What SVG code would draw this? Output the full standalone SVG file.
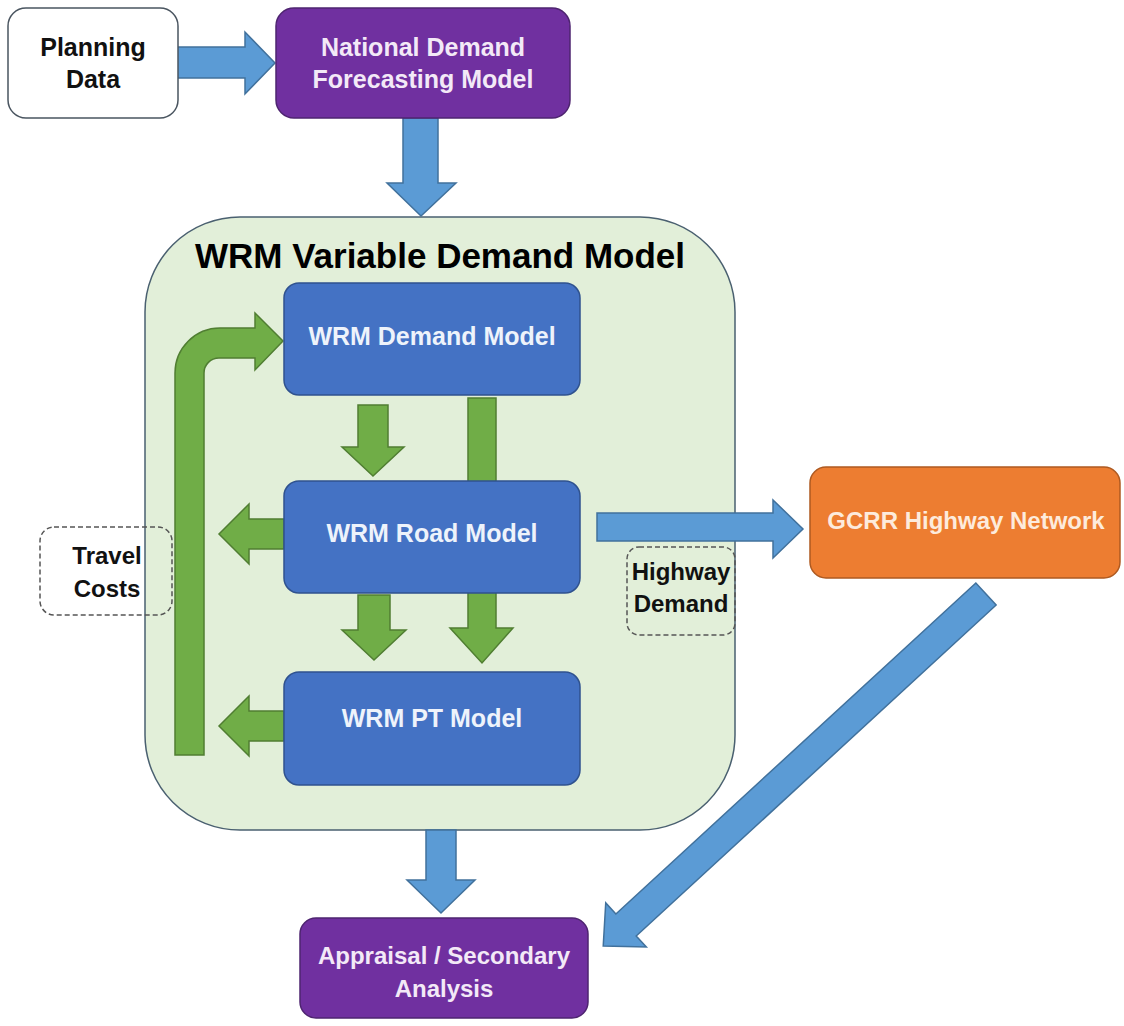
<svg xmlns="http://www.w3.org/2000/svg" width="1124" height="1026" viewBox="0 0 1124 1026">
<style>
text{font-family:"Liberation Sans",Arial,sans-serif;font-weight:bold;text-anchor:middle}
.lt{fill:#f3e9f7;font-size:25px}
.dk{fill:#111;font-size:25px}
.wt{fill:#eef3fb;font-size:25px}
.purple{fill:#7030a0;stroke:#4e2470;stroke-width:1.5}
.blue{fill:#4472c4;stroke:#2f528f;stroke-width:1.5}
.barrow{fill:#5b9bd5;stroke:#41719c;stroke-width:1.5}
.garrow{fill:#70ad47;stroke:#507e32;stroke-width:1.5}
.dash{fill:none;stroke:#555;stroke-width:1.5;stroke-dasharray:5,3}
</style>
<rect width="1124" height="1026" fill="#fff"/>
<g id="container">
<rect x="145" y="217" width="590" height="613" rx="95" fill="#e2efd9" stroke="#4a6070" stroke-width="1.5"/>
<text x="440" y="268" style="font-size:35px;fill:#000">WRM Variable Demand Model</text>
</g>
<g id="connectors">
<path class="barrow" d="M177,47 L245,47 L245,32 L275,63 L245,94 L245,78 L177,78 Z"/>
<path class="barrow" d="M403,118 L438,118 L438,183 L456,183 L421,216 L387,183 L403,183 Z"/>
<path class="barrow" d="M597,513 L773,513 L773,500 L803,529 L773,558 L773,541 L597,541 Z"/>
<path class="barrow" d="M426,830 L456,830 L456,880 L475,880 L441,913 L407,880 L426,880 Z"/>
<path class="barrow" transform="translate(986,594) rotate(137.4)" d="M0,-15 L489,-15 L489,-30 L520,0 L489,30 L489,15 L0,15 Z"/>
<path class="garrow" d="M175,755 L175,373 A45,45 0 0 1 220,328 L255,328 L255,313 L283,341 L255,370 L255,358 L219,358 A15,15 0 0 0 204,373 L204,755 Z"/>
<path class="garrow" d="M358,405 L388,405 L388,447 L404,447 L373,476 L342,447 L358,447 Z"/>
<path class="garrow" d="M468,398 L496,398 L496,628 L513,628 L482,663 L450,628 L468,628 Z"/>
<path class="garrow" d="M358,595 L390,595 L390,630 L406,630 L374,660 L342,630 L358,630 Z"/>
<path class="garrow" d="M284,519 L249,519 L249,504 L219,534 L249,564 L249,549 L284,549 Z"/>
<path class="garrow" d="M284,711 L249,711 L249,696 L219,726 L249,756 L249,741 L284,741 Z"/>
</g>
<g id="planning-data">
<rect x="8" y="8" width="170" height="110" rx="18" fill="#fff" stroke="#4a5560" stroke-width="1.5"/>
<text class="dk" x="93" y="56">Planning</text>
<text class="dk" x="93" y="88">Data</text>
</g>
<g id="national-demand">
<rect class="purple" x="276" y="8" width="294" height="110" rx="18"/>
<text class="lt" x="423" y="56">National Demand</text>
<text class="lt" x="423" y="88">Forecasting Model</text>
</g>
<g id="wrm-demand">
<rect class="blue" x="284" y="283" width="296" height="112" rx="15"/>
<text class="wt" x="432" y="345">WRM Demand Model</text>
</g>
<g id="wrm-road">
<rect class="blue" x="284" y="481" width="296" height="112" rx="15"/>
<text class="wt" x="432" y="542">WRM Road Model</text>
</g>
<g id="wrm-pt">
<rect class="blue" x="284" y="672" width="296" height="113" rx="15"/>
<text class="wt" x="432" y="727">WRM PT Model</text>
</g>
<g id="travel-costs">
<rect class="dash" x="40" y="527" width="132" height="88" rx="14"/>
<text class="dk" x="107" y="564" style="font-size:24px">Travel</text>
<text class="dk" x="107" y="597" style="font-size:24px">Costs</text>
</g>
<g id="highway-demand">
<rect class="dash" x="627" y="547" width="108" height="88" rx="12"/>
<text class="dk" x="681" y="580" style="font-size:24px">Highway</text>
<text class="dk" x="681" y="612" style="font-size:24px">Demand</text>
</g>
<g id="gcrr">
<rect x="810" y="467" width="310" height="111" rx="16" fill="#ed7d31" stroke="#ae5a21" stroke-width="1.5"/>
<text x="966" y="529" style="fill:#fdebdc;font-size:24px">GCRR Highway Network</text>
</g>
<g id="appraisal">
<rect class="purple" x="300" y="918" width="288" height="100" rx="16"/>
<text class="lt" x="444" y="964" style="font-size:24px">Appraisal / Secondary</text>
<text class="lt" x="444" y="997" style="font-size:24px">Analysis</text>
</g>
</svg>
